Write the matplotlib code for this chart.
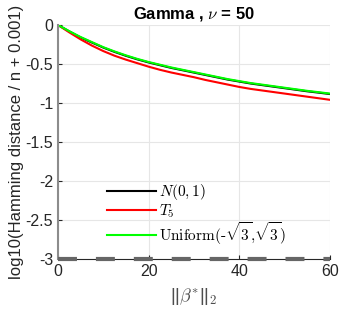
import matplotlib
matplotlib.use("Agg")
import matplotlib.pyplot as plt

plt.rcParams['font.family'] = ['Liberation Sans', 'DejaVu Sans']
plt.rcParams['axes.unicode_minus'] = False
plt.rcParams['mathtext.fontset'] = 'cm'

# 数据
x = [0, 2.5, 5, 7.5, 10, 12.5, 15, 17.5, 20, 22.5, 25, 27.5, 30,
     32.5, 35, 37.5, 40, 42.5, 45, 47.5, 50, 52.5, 55, 57.5, 60]
y_unif = [0, -0.08, -0.155, -0.22, -0.285, -0.34, -0.39, -0.435, -0.475, -0.51, -0.545, -0.575, -0.605,
          -0.635, -0.665, -0.695, -0.72, -0.745, -0.765, -0.785, -0.805, -0.825, -0.845, -0.862, -0.88]
y_normal = [0, -0.083, -0.16, -0.226, -0.29, -0.346, -0.396, -0.441, -0.481, -0.516, -0.551, -0.581, -0.611,
            -0.641, -0.671, -0.701, -0.726, -0.751, -0.771, -0.791, -0.811, -0.831, -0.851, -0.868, -0.886]
y_t5 = [0, -0.095, -0.185, -0.265, -0.335, -0.395, -0.445, -0.49, -0.535, -0.575, -0.61, -0.64, -0.67,
        -0.705, -0.735, -0.765, -0.795, -0.82, -0.84, -0.86, -0.88, -0.9, -0.92, -0.94, -0.96]
base_x = [0, 60]
base_y = [-3, -3]

fig = plt.figure(figsize=(3.43, 3.2), dpi=100)
ax = fig.add_axes([0.169, 0.191, 0.793, 0.731])

ax.plot(base_x, base_y, color='#666666', lw=3, ls=(0, (4.55, 4.55)), solid_capstyle='butt',
        zorder=3, clip_on=False)
l1, = ax.plot(x, y_normal, color='black', lw=1.5, label=r'$N(0,1)$')
l2, = ax.plot(x, y_t5, color='#ff0000', lw=1.5, label=r'$T_5$')
l3, = ax.plot(x, y_unif, color='#00ff00', lw=1.5, label=r'$\mathrm{Uniform}(\text{-}\sqrt{3},\!\sqrt{3})$')

ax.set_xlim(0, 60)
ax.set_ylim(-3, 0)
ax.set_xticks([0, 20, 40, 60])
ax.set_yticks([0, -0.5, -1, -1.5, -2, -2.5, -3])
ax.set_yticklabels(['0', '-0.5', '-1', '-1.5', '-2', '-2.5', '-3'])
ax.tick_params(direction='in', labelsize=11.5, colors='#262626', length=3)
ax.grid(color='#e6e6e6', lw=0.8)
ax.set_axisbelow(True)
for s in ['top', 'right']:
    ax.spines[s].set_visible(False)
ax.spines['bottom'].set_color('#262626')
ax.spines['left'].set_color('#8c8c8c')
ax.spines['left'].set_linewidth(1.5)

ax.set_title(r'Gamma , $\nu$ = 50', fontsize=12, fontweight='bold', pad=5)
ax.set_xlabel(r'||$\beta^{*}$||$_2$', fontsize=13, color='#4d4d4d', labelpad=5)
ax.set_ylabel('log10(Hamming distance / n + 0.001)', fontsize=12, color='#262626', labelpad=1)

leg = ax.legend(handles=[l1, l2, l3], loc='center left', bbox_to_anchor=(0.18, 0.19),
                frameon=False, fontsize=11, handlelength=3.2, handletextpad=0.2,
                borderpad=0, borderaxespad=0, labelspacing=0.0)

fig.savefig('out.png', dpi=100)
